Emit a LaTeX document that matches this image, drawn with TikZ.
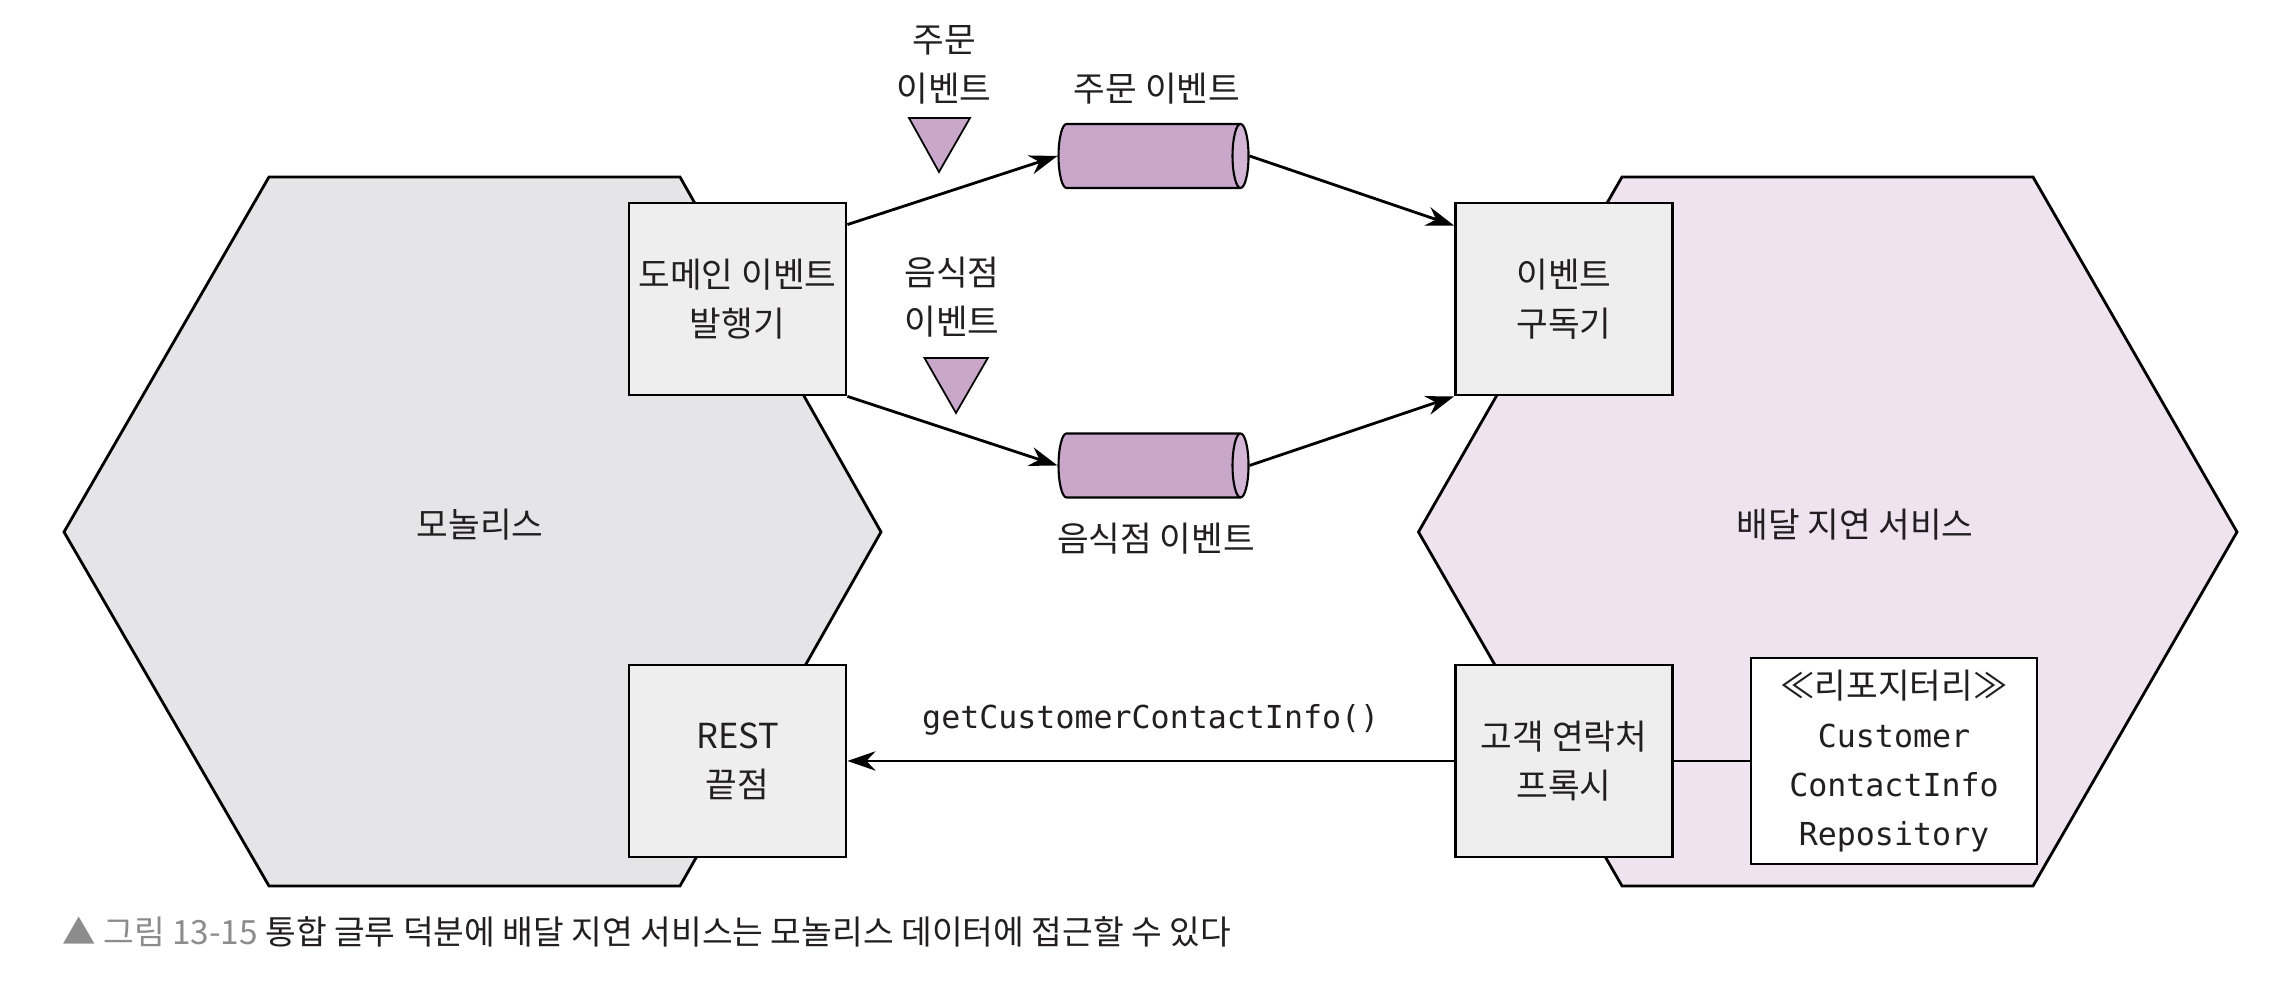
\documentclass[tikz,border=0pt]{standalone}
\usepackage{fontspec}
\setmainfont{Noto Sans CJK KR}
\setmonofont{DejaVu Sans Mono}
\usetikzlibrary{shapes.geometric,arrows.meta}
\definecolor{monogray}{HTML}{E5E5E7}
\definecolor{svcpink}{HTML}{EFE3F0}
\definecolor{boxgray}{HTML}{EEEEEE}
\definecolor{evpurple}{HTML}{C9A7CB}
\definecolor{evend}{HTML}{D3B5D5}
\definecolor{inkgray}{HTML}{231F20}
\definecolor{capgray}{HTML}{8C8C8C}
\newcommand{\codetext}[1]{{\fontsize{9}{14}\selectfont\ttfamily #1}}

\begin{document}
\begin{tikzpicture}[
    >={Stealth[length=8pt,width=5.5pt]},
    every node/.style={font=\fontsize{9.8}{14}\selectfont,text=inkgray},
    comp/.style={draw,fill=boxgray,line width=0.8pt,minimum width=2.17cm,minimum height=1.92cm,inner sep=0pt,align=center},
    repobox/.style={draw,fill=white,line width=0.8pt,minimum width=2.86cm,minimum height=2.06cm,inner sep=0pt,align=center},
    chan/.style={cylinder,draw,line width=0.6pt,shape aspect=0.25,minimum width=0.64cm,minimum height=1.90cm,inner xsep=0pt,inner ysep=0.32cm,cylinder uses custom fill,cylinder body fill=evpurple,cylinder end fill=evend},
    hexa/.style={draw,line width=0.8pt},
    flow/.style={->,line width=0.8pt},
    ]
    \useasboundingbox (0,0) rectangle (22.79,10);
    % Hexagons
    \filldraw[hexa,fill=monogray](2.69,8.23)--(6.80,8.23)--(8.81,4.68)--(6.80,1.14)--(2.69,1.14)--(0.64,4.68)--cycle;
    \filldraw[hexa,fill=svcpink](16.22,8.23)--(20.33,8.23)--(22.37,4.68)--(20.33,1.14)--(16.22,1.14)--(14.185,4.68)--cycle;
    \node(mono)at(4.80,4.75){모놀리스};
    \node(svc)at(18.55,4.75){배달 지연 서비스};
    % Components
    \node[comp](pub)at(7.375,7.01){도메인 이벤트\\발행기};
    \node[comp](sub)at(15.64,7.01){이벤트\\구독기};
    \node[comp](rest)at(7.375,2.39){REST\\끝점};
    \node[comp](proxy)at(15.64,2.39){고객 연락처\\프록시};
    \node[repobox](repo)at(18.94,2.39){≪리포지터리≫\\\codetext{Customer}\\\codetext{ContactInfo}\\\codetext{Repository}};
    % Channels
    \node[chan](ordq)at(11.45,8.44){};
    \node[chan](restq)at(11.45,5.345){};
    \node(ordch)at(11.57,9.115){주문 이벤트};
    \node(restch)at(11.56,4.615){음식점 이벤트};
    % Event markers
    \filldraw[fill=evpurple,line width=0.5pt](9.09,8.82)--(9.70,8.82)--(9.39,8.28)--cycle;
    \filldraw[fill=evpurple,line width=0.5pt](9.245,6.42)--(9.878,6.42)--(9.56,5.87)--cycle;
    \node[align=center](ordlbl)at(9.44,9.35){주문\\이벤트};
    \node[align=center](restlbl)at(9.52,7.03){음식점\\이벤트};
    % Messages
    \draw[flow]([yshift=-0.23cm]pub.north east)--(ordq.west);
    \draw[flow](pub.south east)--(restq.west);
    \draw[flow](ordq.east)--([yshift=-0.24cm]sub.north west);
    \draw[flow](restq.east)--(sub.south west);
    \draw[flow](proxy.west)--(rest.east)node[midway,yshift=0.41cm]{\codetext{getCustomerContactInfo()}};
    \draw[line width=0.8pt](proxy.east)--(repo.west);
    % Caption
    \node[anchor=west,font=\fontsize{9.5}{12}\selectfont](cap)at(0.50,0.68){\textcolor{capgray}{▲ 그림 13-15} 통합 글루 덕분에 배달 지연 서비스는 모놀리스 데이터에 접근할 수 있다};
\end{tikzpicture}
\end{document}
